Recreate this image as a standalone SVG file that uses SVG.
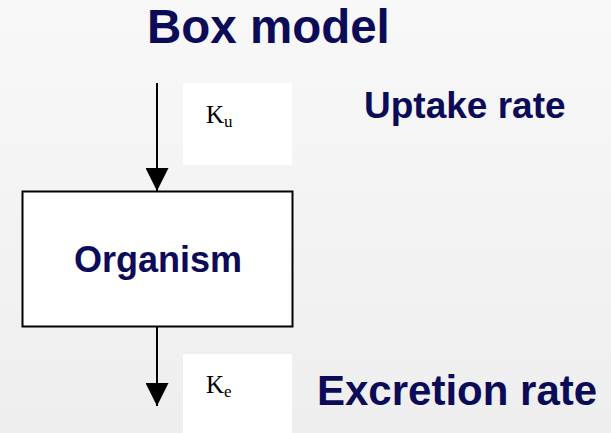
<svg xmlns="http://www.w3.org/2000/svg" width="611" height="433" viewBox="0 0 611 433">
<defs>
<linearGradient id="bg" x1="0" y1="0" x2="0" y2="1">
<stop offset="0" stop-color="#F8F8F8"/>
<stop offset="1" stop-color="#EEEEEE"/>
</linearGradient>
<marker id="arr" viewBox="0 0 23 23" markerWidth="23" markerHeight="23" refX="23" refY="11.5" orient="auto" markerUnits="userSpaceOnUse">
<path d="M0,0 L23,11.5 L0,23 Z" fill="#000"/>
</marker>
</defs>
<style>
.title{font-family:"Liberation Sans",Arial,sans-serif;font-weight:bold;fill:#0B0B57}
.k{font-family:"Liberation Serif","Times New Roman",serif;fill:#000}
.conn{stroke:#000;stroke-width:2;fill:none}
</style>
<rect x="0" y="0" width="611" height="433" fill="url(#bg)"/>
<text class="title" x="147" y="42.5" font-size="47.5">Box model</text>
<text class="title" x="364" y="118" font-size="37">Uptake rate</text>
<text class="title" x="317" y="405" font-size="42">Excretion rate</text>
<g id="label-ku">
<rect x="183" y="83" width="109" height="82" fill="#FFFFFF"/>
<text class="k" x="206" y="123" font-size="25">K<tspan font-size="17" dy="4">u</tspan></text>
</g>
<g id="label-ke">
<rect x="183" y="354" width="109" height="79" fill="#FFFFFF"/>
<text class="k" x="206" y="393" font-size="25">K<tspan font-size="17" dy="4">e</tspan></text>
</g>
<g id="organism">
<rect x="22.5" y="191.5" width="270" height="135" fill="#FFFFFF" stroke="#000" stroke-width="2"/>
<text class="title" x="158" y="272" font-size="36" text-anchor="middle">Organism</text>
</g>
<g id="connectors">
<line class="conn" x1="157" y1="83" x2="157" y2="191" marker-end="url(#arr)"/>
<line class="conn" x1="157" y1="327" x2="157" y2="406" marker-end="url(#arr)"/>
</g>
</svg>
